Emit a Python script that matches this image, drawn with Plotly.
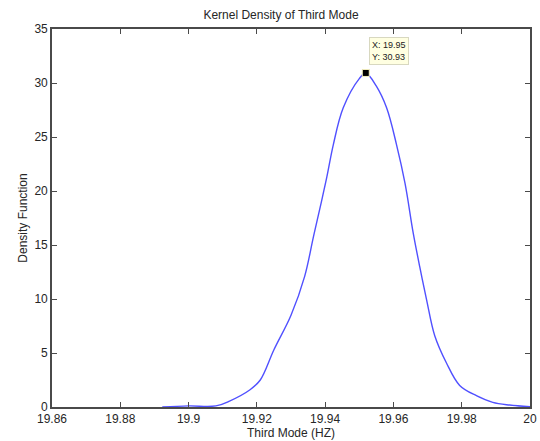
import plotly.graph_objects as go

freq = [19.8923, 19.900, 19.908, 19.912, 19.918, 19.921, 19.925, 19.930, 19.934, 19.9366,
        19.9389, 19.9405, 19.9424, 19.9453, 19.950, 19.9519, 19.955, 19.958, 19.9609, 19.9634,
        19.9658, 19.9677, 19.9697, 19.9721, 19.9755, 19.9794, 19.9843, 19.9891, 19.994, 20.0]
density = [0, 0.1, 0.1, 0.55, 1.6, 2.5, 5.3, 8.5, 12.1, 15.8,
           19.0, 21.3, 24.3, 27.7, 30.4, 30.93, 29.7, 27.7, 24.3, 20.7,
           16.1, 13.0, 9.95, 6.6, 4.1, 2.0, 1.05, 0.43, 0.18, 0.02]

peak_x = [19.9519]
peak_y = [30.93]
tip_text = "X: 19.95<br>Y: 30.93"

x_ticks = [19.86, 19.88, 19.90, 19.92, 19.94, 19.96, 19.98, 20.0]
x_labels = ["19.86", "19.88", "19.9", "19.92", "19.94", "19.96", "19.98", "20"]
y_ticks = [0, 5, 10, 15, 20, 25, 30, 35]

font = "Liberation Sans, Arial, sans-serif"
axcol = "#4a4a4a"

W, H = 540, 441

fig = go.Figure()
fig.add_trace(go.Scatter(x=freq, y=density, mode="lines",
                         line=dict(color="rgb(80,80,255)", width=1.4),
                         line_shape="spline", showlegend=False, hoverinfo="skip"))
fig.add_trace(go.Scatter(x=peak_x, y=peak_y, mode="markers",
                         marker=dict(symbol="square", size=7, color="black",
                                     line=dict(color="#f5f0c0", width=1)),
                         showlegend=False, hoverinfo="skip"))

fig.add_annotation(x=peak_x[0], y=peak_y[0], text=tip_text, showarrow=False,
                   xanchor="left", yanchor="bottom", xshift=3, yshift=8,
                   align="left", font=dict(family=font, size=9, color="#222"),
                   bgcolor="#ffffe1", bordercolor="#d8d8c0", borderwidth=1, borderpad=2)

fig.update_layout(
    width=W, height=H,
    margin=dict(l=52, r=10, t=29, b=34, autoexpand=False),
    paper_bgcolor="white", plot_bgcolor="white",
    font=dict(family=font, size=12, color="#262626"),
    title=dict(text="Kernel Density of Third Mode", x=281 / W, xref="container", xanchor="center",
               y=1 - 15 / H, yref="container", yanchor="middle", automargin=False,
               font=dict(family=font, size=12, color="#262626")),
)
fig.update_xaxes(range=[19.86, 20.0], tickvals=x_ticks, ticktext=x_labels, automargin=False,
                 showgrid=False, zeroline=False, showline=True, linecolor=axcol, linewidth=1.6,
                 mirror="ticks", ticks="inside", ticklen=5, tickcolor=axcol,
                 ticklabeloverflow="allow",
                 title=dict(text="Third Mode (HZ)", standoff=0, font=dict(size=12)),
                 tickfont=dict(size=12))
fig.update_yaxes(range=[0, 35], tickvals=y_ticks, automargin=False,
                 showgrid=False, zeroline=False, showline=True, linecolor=axcol, linewidth=1.6,
                 mirror="ticks", ticks="inside", ticklen=5, tickcolor=axcol,
                 title=dict(text="Density Function", standoff=4, font=dict(size=12)),
                 tickfont=dict(size=12))

fig.write_html("out.html", config={"displayModeBar": False},
               post_script="document.body.style.margin='0';document.body.style.overflow='hidden';")
